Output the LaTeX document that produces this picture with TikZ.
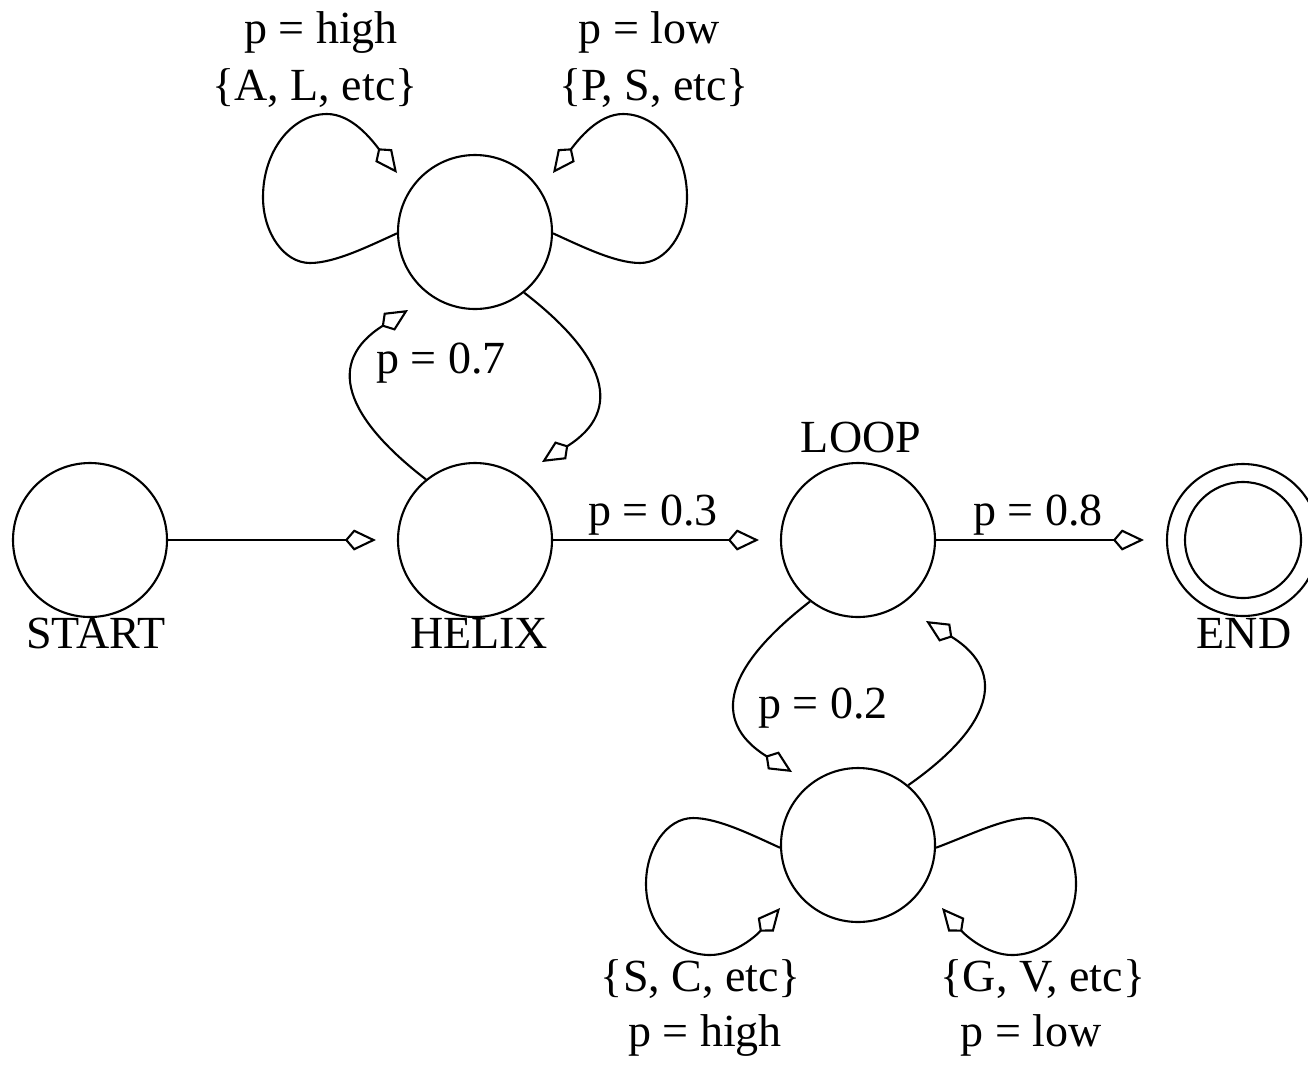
\documentclass[tikz,border=0pt]{standalone}
\usepackage{fontspec}
\setmainfont{Liberation Serif}
\usetikzlibrary{arrows.meta}
\begin{document}
\begin{tikzpicture}[x=1pt,y=-1pt,
  line width=2.1pt,
  state/.style={circle,draw,minimum size=154pt,inner sep=0pt},
  lbl/.style={font=\fontsize{46}{52}\selectfont,inner sep=0pt,anchor=base},
  arr/.style={-{Kite[open,length=31pt,width=21pt,inset=9pt]}},
]
\clip (0,0) rectangle (1308,1085);
\fill[white] (0,0) rectangle (1308,1085);

% states
\node[state] (start) at (90,540) {};
\node[state] (helix) at (475,540) {};
\node[state] (loop) at (858,540) {};
\node[state,minimum size=152pt] (endst) at (1243,540) {};
\draw (endst.center) circle[radius=58pt];
\node[state] (top) at (475,232) {};
\node[state] (bot) at (858,845) {};

% labels
\node[lbl] (lstart) at (96,648) {START};
\node[lbl] (lhelix) at (479,648) {HELIX};
\node[lbl] (lloop) at (861,452) {LOOP};
\node[lbl] (lend) at (1244,648) {END};
\node[lbl] (p03) at (653,525) {p = 0.3};
\node[lbl] (p08) at (1038,525) {p = 0.8};
\node[lbl] (p07) at (441,373) {p = 0.7};
\node[lbl] (p02) at (823,718) {p = 0.2};
\node[lbl] (phigh1) at (321,43) {p = high};
\node[lbl] (set1) at (315,100) {\{A, L, etc\}};
\node[lbl] (plow1) at (649,43) {p = low};
\node[lbl] (set2) at (654,100) {\{P, S, etc\}};
\node[lbl] (set3) at (701,991) {\{S, C, etc\}};
\node[lbl] (phigh2) at (705,1046) {p = high};
\node[lbl] (set4) at (1043,991) {\{G, V, etc\}};
\node[lbl] (plow2) at (1031,1046) {p = low};

% straight connectors
\draw[arr,shorten >=21pt] (start) -- (helix);
\draw[arr,shorten >=21pt] (helix) -- (loop);
\draw[arr,shorten >=22pt] (loop) -- (endst);

% free ends (arrow tips)
\coordinate (t1) at (542,462);
\coordinate (t2) at (408,310);
\coordinate (t3) at (792,772);
\coordinate (t4) at (926,621);
\coordinate (t5) at (397,173);
\coordinate (t6) at (553,173);
\coordinate (t7) at (780,908);
\coordinate (t8) at (942,908);

% curved transitions
\draw[arr] (top.-51) .. controls (605,355) and (625,410) .. (t1);
\draw[arr] (helix.129) .. controls (345,417) and (325,362) .. (t2);
\draw[arr] (loop.-128) .. controls (728,665) and (708,720) .. (t3);
\draw[arr] (bot.50) .. controls (990,728) and (1010,673) .. (t4);

% self loops
\draw[arr] (top.181) .. controls (369,246) and (335,263) .. (310,263)
  .. controls (284,263) and (263,233) .. (263,197)
  .. controls (263,151) and (292,114) .. (327,114)
  .. controls (352,114) and (372,140) .. (t5);
\draw[arr] (top.-1) .. controls (581,246) and (615,263) .. (640,263)
  .. controls (666,263) and (687,233) .. (687,197)
  .. controls (687,151) and (658,114) .. (623,114)
  .. controls (598,114) and (578,140) .. (t6);
\draw[arr] (bot.182) .. controls (752,835) and (718,818) .. (693,818)
  .. controls (667,818) and (646,848) .. (646,884)
  .. controls (646,925) and (675,955) .. (710,955)
  .. controls (735,955) and (757,935) .. (t7);
\draw[arr] (bot.-2) .. controls (970,835) and (1004,818) .. (1029,818)
  .. controls (1055,818) and (1076,848) .. (1076,884)
  .. controls (1076,925) and (1047,955) .. (1012,955)
  .. controls (987,955) and (965,935) .. (t8);
\end{tikzpicture}
\end{document}
